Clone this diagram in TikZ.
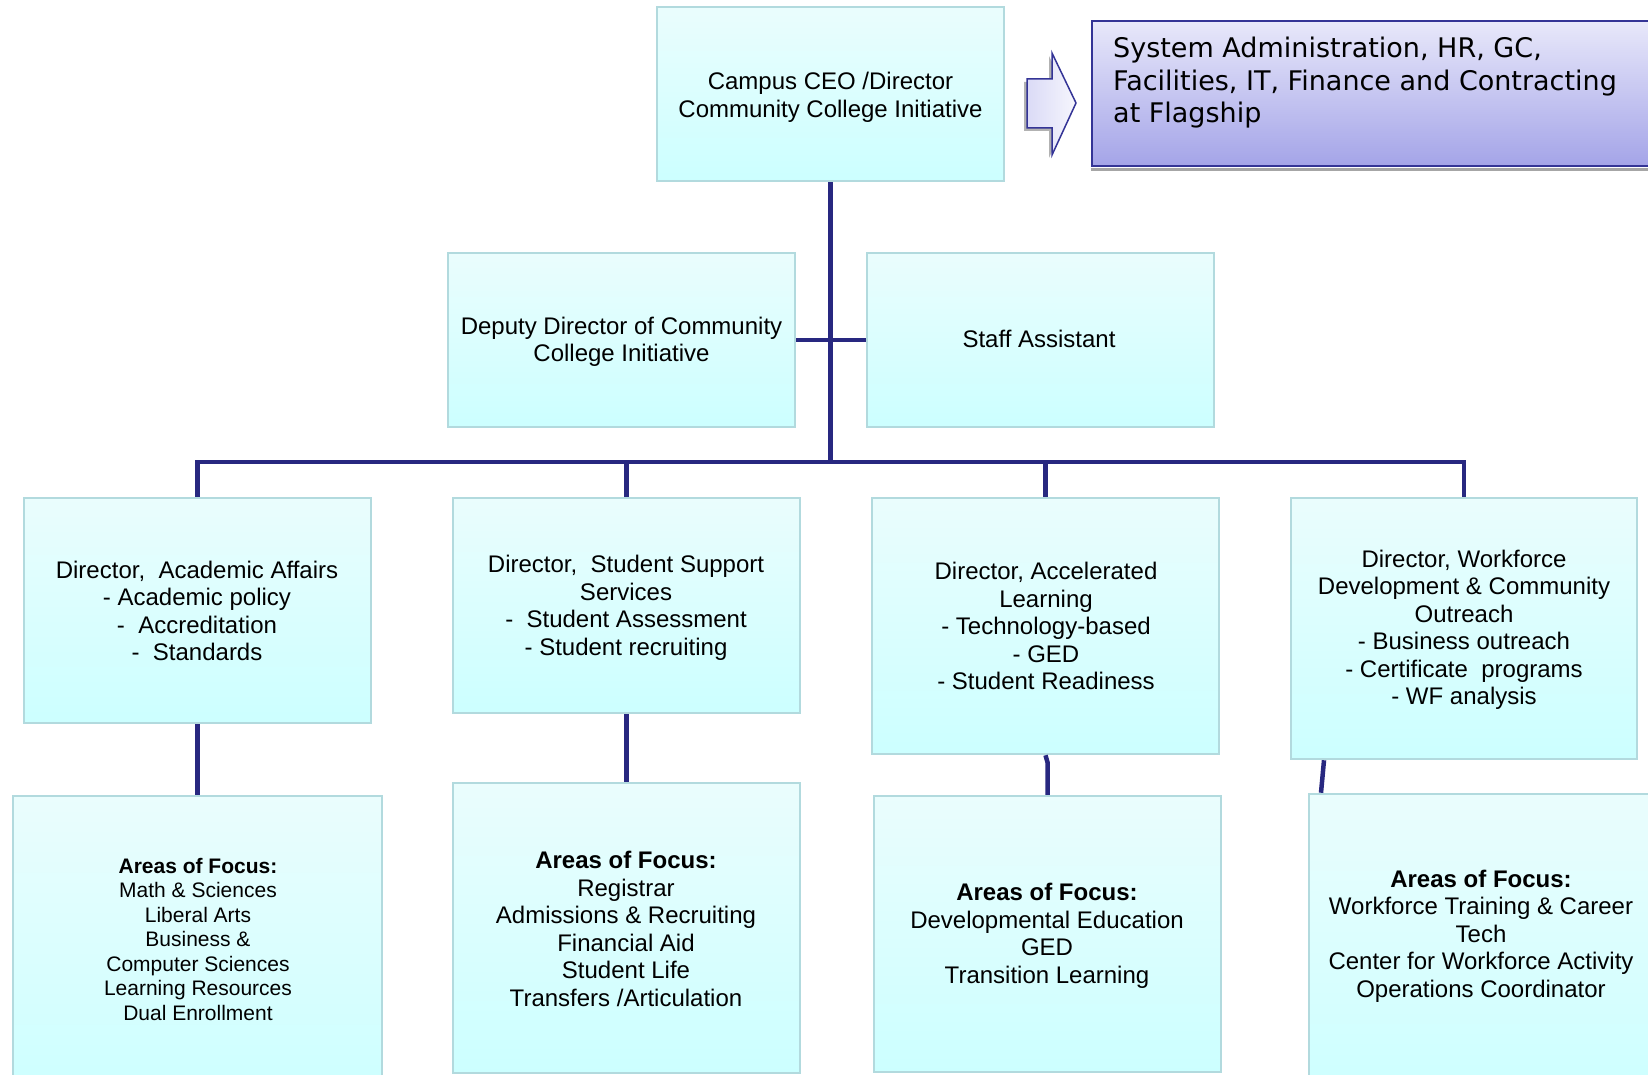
\documentclass[tikz,border=0pt]{standalone}
\usepackage{fontspec}
\setmainfont{Liberation Sans}
\newfontfamily\vfont{DejaVu Sans}
\definecolor{boxtop}{RGB}{234,253,253}
\definecolor{boxbot}{RGB}{204,255,255}
\definecolor{boxline}{RGB}{178,218,222}
\definecolor{conncol}{RGB}{40,40,128}
\definecolor{lavtop}{RGB}{232,232,250}
\definecolor{lavbot}{RGB}{164,164,232}
\definecolor{lavline}{RGB}{52,52,150}
\begin{document}
\begin{tikzpicture}[x=1pt,y=-1pt,
  box/.style={rectangle, draw=boxline, line width=2.5pt, top color=boxtop, bottom color=boxbot, inner sep=0pt},
  txt/.style={align=center, inner sep=0pt, font=\fontsize{24}{27.5}\selectfont},
  smalltxt/.style={align=center, inner sep=0pt, font=\fontsize{21}{24.5}\selectfont},
  conn/.style={draw=conncol, line width=4.5pt}]
\useasboundingbox (0,0) rectangle (1648,1075);
\clip (0,0) rectangle (1648,1075);

% boxes
\node[box, minimum width=347pt, minimum height=174pt] (ceo) at (830.5,94) {};
\node[rectangle, draw=lavline, line width=2pt, top color=lavtop, bottom color=lavbot, minimum width=608pt, minimum height=145pt, inner sep=0pt] (sys) at (1396,93.5) {};
\node[box, minimum width=347pt, minimum height=174pt] (dep) at (621.5,340) {};
\node[box, minimum width=347pt, minimum height=174pt] (staff) at (1040.5,340) {};
\node[box, minimum width=347pt, minimum height=225pt] (a) at (197.5,610.5) {};
\node[box, minimum width=347pt, minimum height=215pt] (b) at (626.5,605.5) {};
\node[box, minimum width=347pt, minimum height=256pt] (c) at (1045.5,626) {};
\node[box, minimum width=346pt, minimum height=261pt] (d) at (1464,628.5) {};
\node[box, minimum width=369pt, minimum height=304pt] (a4) at (197.5,948) {};
\node[box, minimum width=347pt, minimum height=290pt] (b4) at (626.5,928) {};
\node[box, minimum width=347pt, minimum height=276pt] (c4) at (1047.5,934) {};
\node[box, minimum width=391pt, minimum height=306pt] (d4) at (1504.5,947) {};

% shadow under system box
\draw[gray!70, line width=3pt] ([yshift=-3pt]sys.south west) -- ++(560,0);

% block arrow
\fill[gray!60] (1024,82) -- (1049,82) -- (1049,56) -- (1073,106) -- (1049,158) -- (1049,131) -- (1024,131) -- cycle;
\path[draw=lavline, line width=1.5pt, left color=lavtop!80!lavbot, right color=lavtop!40] (1027,79) -- (1052,79) -- (1052,53) -- (1076,103) -- (1052,155) -- (1052,128) -- (1027,128) -- cycle;

% connectors
\coordinate (bus) at (830.5,462);
\draw[conn] (ceo.south) -- (bus);
\draw[conn] (dep.east) -- (staff.west);
\draw[conn] (a.north) |- (bus) -| (d.north);
\draw[conn] (b.north) -- (b.north |- bus);
\draw[conn] (c.north) -- (c.north |- bus);
\draw[conn] (a.south) -- (a4.north);
\draw[conn] (b.south) -- (b4.north);
\draw[conn] (c.south) -- ++(2,7) -- (c4.north);
\draw[conn] ([xshift=-140pt]d.south) -- ([xshift=-183.5pt]d4.north);

% texts
\node[txt] (ceot) at (830.5,97.5) {Campus CEO /Director\\Community College Initiative};
\node[anchor=west, align=left, inner sep=0pt, font=\vfont\fontsize{27}{32.5}\selectfont] (syst) at (1113,83) {System Administration, HR, GC,\\Facilities, IT, Finance and Contracting\\at Flagship};
\node[txt] (dept) at (621.5,342) {Deputy Director of Community\\College Initiative};
\node[txt] (stafft) at (1039,339) {Staff Assistant};
\node[txt] (at) at (197,611) {Director,\ \ Academic Affairs\\- Academic policy\\-\ \ Accreditation\\-\ \ Standards};
\node[txt] (bt) at (626,608) {Director,\ \ Student Support\\Services\\-\ \ Student Assessment\\- Student recruiting};
\node[txt] (ct) at (1046,626) {Director, Accelerated\\Learning\\- Technology-based\\- GED\\- Student Readiness};
\node[txt] (dt) at (1464,630) {Director, Workforce\\Development \& Community\\Outreach\\- Business outreach\\- Certificate\ \ programs\\- WF analysis};
\node[smalltxt] (a4t) at (198,939) {\textbf{Areas of Focus:}\\Math \& Sciences\\Liberal Arts\\Business \&\\Computer Sciences\\Learning Resources\\Dual Enrollment};
\node[txt] (b4t) at (626,929) {\textbf{Areas of Focus:}\\Registrar\\Admissions \& Recruiting\\Financial Aid\\Student Life\\Transfers /Articulation};
\node[txt] (c4t) at (1047,936) {\textbf{Areas of Focus:}\\Developmental Education\\GED\\Transition Learning};
\node[txt] (d4t) at (1481,936) {\textbf{Areas of Focus:}\\Workforce Training \& Career\\Tech\\Center for Workforce Activity\\Operations Coordinator};
\end{tikzpicture}
\end{document}
